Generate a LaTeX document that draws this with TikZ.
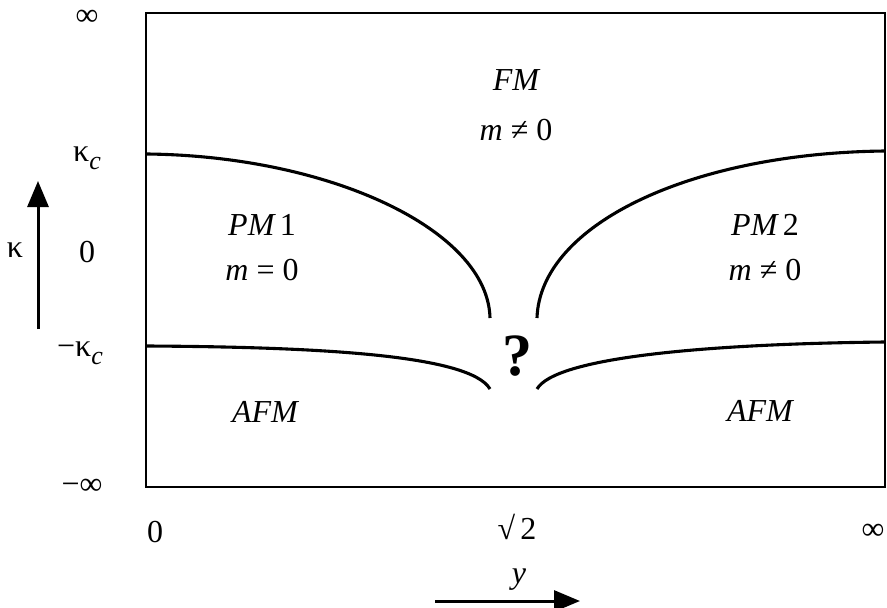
\documentclass[tikz,border=0pt]{standalone}
\usepackage{fontspec}
\setmainfont{Liberation Serif}
\usetikzlibrary{arrows.meta}
\begin{document}
\begin{tikzpicture}[x=1pt,y=-1pt,
  lbl/.style={inner sep=0pt,font=\fontsize{32}{35}\selectfont},
  ilbl/.style={inner sep=0pt,font=\fontsize{32}{35}\selectfont\itshape},
  bnd/.style={line width=3.1pt},
  axarrow/.style={line width=3pt,-{Triangle[length=26pt,width=21pt]}}]
\useasboundingbox (0,0) rectangle (887,608);
% frame
\draw[line width=2.6pt] (146,13) rectangle (885,487);
% phase boundaries
\draw[bnd] (147,154) .. controls (330,156) and (488,230) .. (490,318);
\draw[bnd] (537,318) .. controls (540,225) and (690,153) .. (885,151);
\draw[bnd] (147,346) .. controls (320,347) and (470,355) .. (490,389);
\draw[bnd] (537,389) .. controls (555,358) and (700,344) .. (885,342);
% region labels
\node[ilbl] (fm) at (516,80) {FM};
\node[lbl] (fmm) at (516,130) {\textit{m} ≠ 0};
\node[ilbl] (pm1) at (262,225) {PM\,\upshape 1};
\node[lbl] (pm1m) at (262,270) {\textit{m} = 0};
\node[ilbl] (pm2) at (765,225) {PM\,\upshape 2};
\node[lbl] (pm2m) at (765,270) {\textit{m} ≠ 0};
\node[ilbl] (afm1) at (265,412) {AFM};
\node[ilbl] (afm2) at (760,411) {AFM};
\node[inner sep=0pt,font=\fontsize{60}{64}\selectfont\bfseries] (q) at (517,356) {?};
% kappa axis labels
\node[lbl] (kinf) at (87,18) {∞};
\node[lbl] (kc) at (87,158) {κ\raisebox{-8pt}{\textit{\fontsize{26}{28}\selectfont c}}};
\node[lbl] (k0) at (87,252) {0};
\node[lbl] (mkc) at (80,353) {−κ\raisebox{-8pt}{\textit{\fontsize{26}{28}\selectfont c}}};
\node[lbl] (mkinf) at (82,487) {−∞};
% y axis labels
\node[lbl] (y0) at (155,532) {0};
\node[lbl] (ys2) at (517,527) {√\,2};
\node[lbl] (yinf) at (873,532) {∞};
% axis arrows
\coordinate (ka) at (38,329);
\coordinate (kb) at (38,181);
\draw[axarrow] (ka) -- (kb);
\node[lbl] (kap) at (15,250) {κ};
\coordinate (ya) at (435,601);
\coordinate (yb) at (580,601);
\draw[axarrow] (ya) -- (yb);
\node[ilbl] (ylab) at (519,580) {y};
\end{tikzpicture}
\end{document}
